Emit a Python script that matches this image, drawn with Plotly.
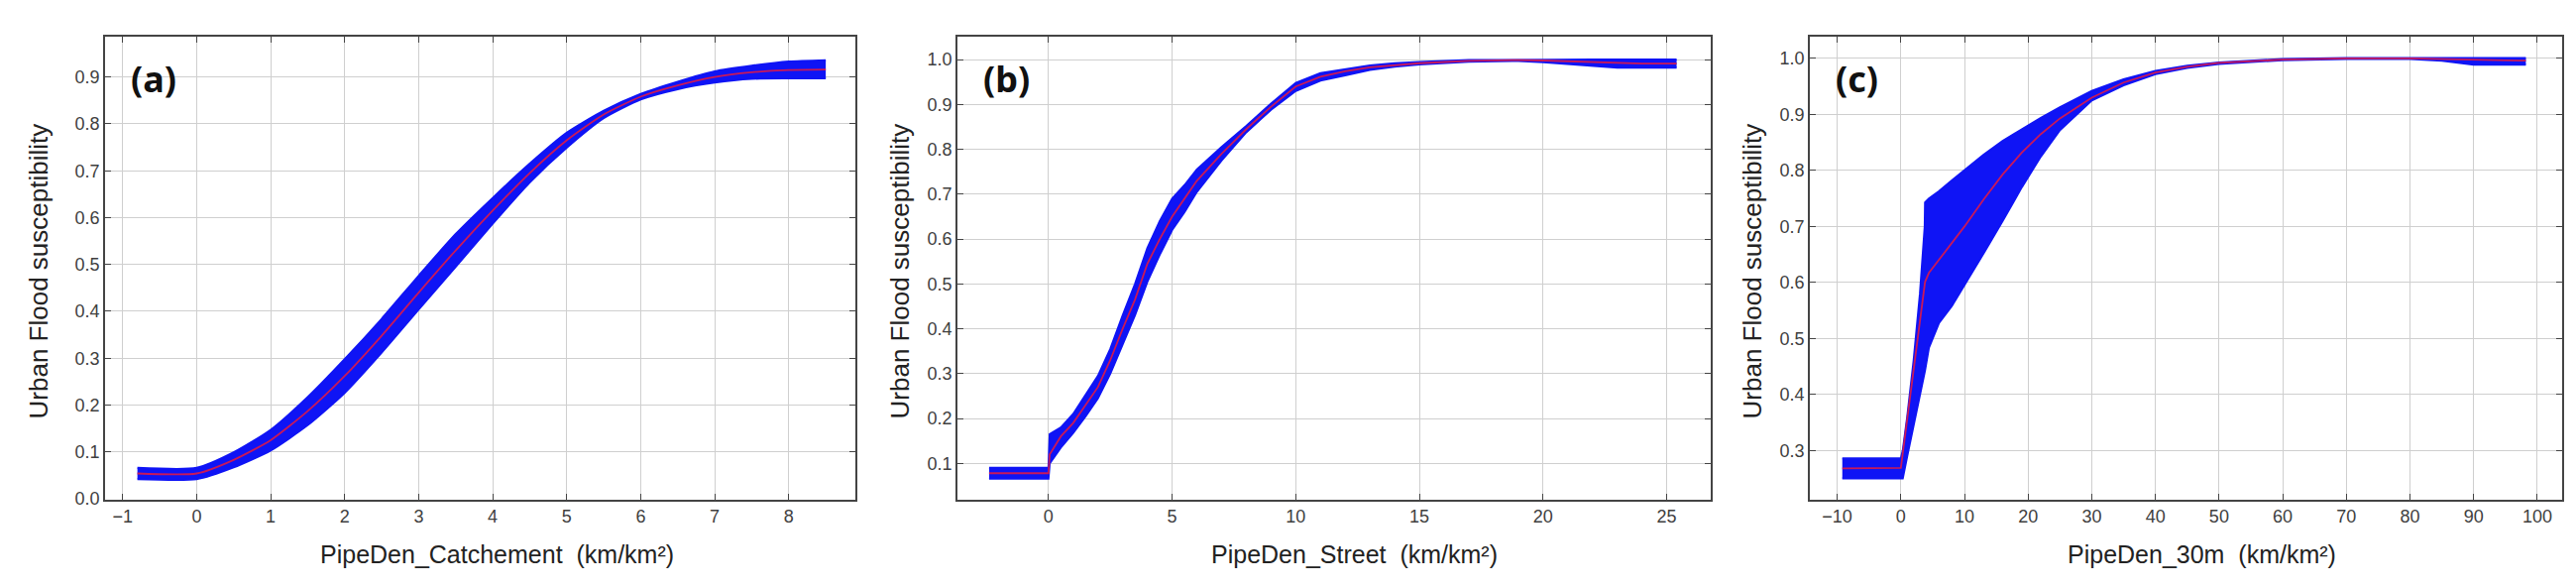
import plotly.graph_objects as go

W, H = 2599, 593

# ---------------- data ----------------
# (a) PipeDen_Catchement
a_x = [-0.8, 0, 0.5, 1, 1.5, 2, 2.5, 3, 3.5, 4, 4.5, 5, 5.5, 6, 6.5, 7, 7.5, 8, 8.5]
a_mean = [0.054, 0.054, 0.083, 0.125, 0.187, 0.262, 0.348, 0.44, 0.53, 0.615, 0.695, 0.765, 0.82, 0.858, 0.882, 0.9, 0.91, 0.915, 0.916]
a_low = [0.042, 0.042, 0.067, 0.103, 0.157, 0.226, 0.312, 0.404, 0.495, 0.587, 0.675, 0.749, 0.812, 0.852, 0.874, 0.888, 0.896, 0.897, 0.897]
a_up = [0.066, 0.066, 0.099, 0.147, 0.217, 0.298, 0.384, 0.476, 0.565, 0.642, 0.715, 0.781, 0.828, 0.864, 0.89, 0.912, 0.924, 0.933, 0.936]

# (b) PipeDen_Street
b_x = [-2.4, 0, 0.05, 0.5, 1, 1.5, 2, 2.5, 3, 3.5, 4, 4.5, 5, 5.5, 6, 7, 8, 9, 10, 11, 12, 13, 14, 15, 17, 19, 20, 21, 22, 23, 24, 25.4]
b_mean = [0.078, 0.078, 0.12, 0.16, 0.19, 0.23, 0.27, 0.33, 0.4, 0.465, 0.545, 0.6, 0.65, 0.69, 0.73, 0.79, 0.845, 0.895, 0.94, 0.962, 0.974, 0.983, 0.988, 0.992, 0.997, 0.999, 0.998, 0.996, 0.994, 0.992, 0.991, 0.991]
b_low = [0.066, 0.066, 0.10, 0.135, 0.168, 0.205, 0.245, 0.30, 0.365, 0.43, 0.505, 0.565, 0.62, 0.66, 0.705, 0.775, 0.838, 0.888, 0.93, 0.953, 0.965, 0.977, 0.984, 0.989, 0.995, 0.997, 0.994, 0.99, 0.985, 0.982, 0.982, 0.982]
b_up = [0.09, 0.09, 0.165, 0.18, 0.21, 0.252, 0.295, 0.355, 0.43, 0.5, 0.58, 0.64, 0.69, 0.72, 0.755, 0.805, 0.852, 0.902, 0.948, 0.97, 0.979, 0.987, 0.992, 0.995, 0.999, 1.0, 1.0, 1.0, 1.0, 1.0, 1.0, 1.0]

# (c) PipeDen_30m
c_x = [-9.2, 0, 0.3, 1, 2, 3, 3.75, 3.8, 4.4, 6, 8, 10, 13, 16, 19, 22, 25, 30, 35, 40, 45, 50, 60, 70, 80, 85, 90, 98.2]
c_mean = [0.268, 0.269, 0.295, 0.357, 0.444, 0.532, 0.597, 0.601, 0.617, 0.641, 0.671, 0.70, 0.748, 0.793, 0.832, 0.865, 0.893, 0.93, 0.957, 0.975, 0.985, 0.992, 0.998, 1.0, 1.0, 0.999, 0.997, 0.996]
c_low = [0.25, 0.25, 0.25, 0.29, 0.345, 0.40, 0.44, 0.443, 0.483, 0.528, 0.558, 0.595, 0.652, 0.71, 0.77, 0.825, 0.872, 0.925, 0.952, 0.972, 0.983, 0.99, 0.997, 0.999, 0.999, 0.996, 0.989, 0.989]
c_up = [0.286, 0.286, 0.30, 0.36, 0.46, 0.58, 0.70, 0.743, 0.75, 0.763, 0.782, 0.80, 0.828, 0.853, 0.874, 0.894, 0.913, 0.942, 0.963, 0.978, 0.987, 0.993, 0.999, 1.001, 1.001, 1.001, 1.001, 1.001]

x_titles = ["PipeDen_Catchement  (km/km²)", "PipeDen_Street  (km/km²)", "PipeDen_30m  (km/km²)"]
y_title = "Urban Flood susceptibility"
panel_labels = ["(a)", "(b)", "(c)"]

x_ranges = [[-1.237, 8.9], [-3.68, 26.78], [-14.3, 103.9]]
y_ranges = [[-0.001, 0.985], [0.02, 1.05], [0.213, 1.038]]
x_ticks = [list(range(-1, 9)), [0, 5, 10, 15, 20, 25], list(range(-10, 101, 10))]
y_ticks = [[i / 10 for i in range(0, 10)], [i / 10 for i in range(1, 11)], [i / 10 for i in range(3, 11)]]

# ---------------- layout geometry ----------------
x_pix = [(98, 855), (958, 1718), (1818, 2577)]
y_top, y_bot = 30, 504
x_title_cx = [493, 1358, 2213]
y_title_cx = [31, 900, 1760]
shapes = ["spline", "linear", "linear"]

BLUE = "rgb(15,20,245)"
RED = "#c8185a"
AXC = "#444444"
GRID = "#cfcfcf"
FONT = "Liberation Sans, Arial, sans-serif"

fig = go.Figure()
panels = [(a_x, a_mean, a_low, a_up), (b_x, b_mean, b_low, b_up), (c_x, c_mean, c_low, c_up)]
annotations = []
for i, (xs, mean, low, up) in enumerate(panels):
    xa = "x" if i == 0 else f"x{i+1}"
    ya = "y" if i == 0 else f"y{i+1}"
    shp = shapes[i]
    fig.add_trace(go.Scatter(x=xs, y=up, mode="lines",
                             line=dict(color=BLUE, width=2, shape=shp, smoothing=0.6),
                             xaxis=xa, yaxis=ya, showlegend=False, hoverinfo="skip"))
    fig.add_trace(go.Scatter(x=xs, y=low, mode="lines",
                             line=dict(color=BLUE, width=2, shape=shp, smoothing=0.6),
                             fill="tonexty", fillcolor=BLUE,
                             xaxis=xa, yaxis=ya, showlegend=False, hoverinfo="skip"))
    fig.add_trace(go.Scatter(x=xs, y=mean, mode="lines",
                             line=dict(color=RED, width=1.8, shape=shp, smoothing=0.6),
                             xaxis=xa, yaxis=ya, showlegend=False))

    axis_common = dict(showline=True, linecolor=AXC, linewidth=1.5, mirror="allticks",
                       ticks="inside", ticklen=6, tickcolor=AXC, tickwidth=1,
                       showgrid=True, gridcolor=GRID, gridwidth=1, zeroline=False,
                       tickfont=dict(family=FONT, size=18, color="#404040"))
    x0, x1 = x_pix[i]
    fig.layout[f"xaxis{'' if i == 0 else i+1}"] = dict(
        domain=[x0 / W, x1 / W], range=x_ranges[i], tickmode="array", tickvals=x_ticks[i],
        anchor=ya, **axis_common)
    fig.layout[f"yaxis{'' if i == 0 else i+1}"] = dict(
        domain=[1 - y_bot / H, 1 - y_top / H], range=y_ranges[i], tickmode="array",
        tickvals=y_ticks[i], tickformat=".1f", anchor=xa, **axis_common)

    annotations.append(dict(text=x_titles[i], xref="paper", yref="paper",
                            x=x_title_cx[i] / W, y=1 - 560 / H, xanchor="center", yanchor="middle",
                            showarrow=False, font=dict(family=FONT, size=25, color="#222222")))
    annotations.append(dict(text=y_title, xref="paper", yref="paper", textangle=-90,
                            x=y_title_cx[i] / W, y=1 - 270 / H, xanchor="center", yanchor="middle",
                            showarrow=False, font=dict(family=FONT, size=26, color="#222222")))
    annotations.append(dict(text=f"<b>{panel_labels[i]}</b>", xref="paper", yref="paper",
                            x=(x0 + 24) / W, y=1 - 73 / H, xanchor="left", yanchor="middle",
                            showarrow=False, font=dict(family="Noto Sans, Open Sans, sans-serif", size=36, color="#111111")))

fig.update_layout(width=W, height=H, margin=dict(l=0, r=0, t=0, b=0),
                  paper_bgcolor="white", plot_bgcolor="white", annotations=annotations,
                  showlegend=False)

fig.write_html("out.html")
